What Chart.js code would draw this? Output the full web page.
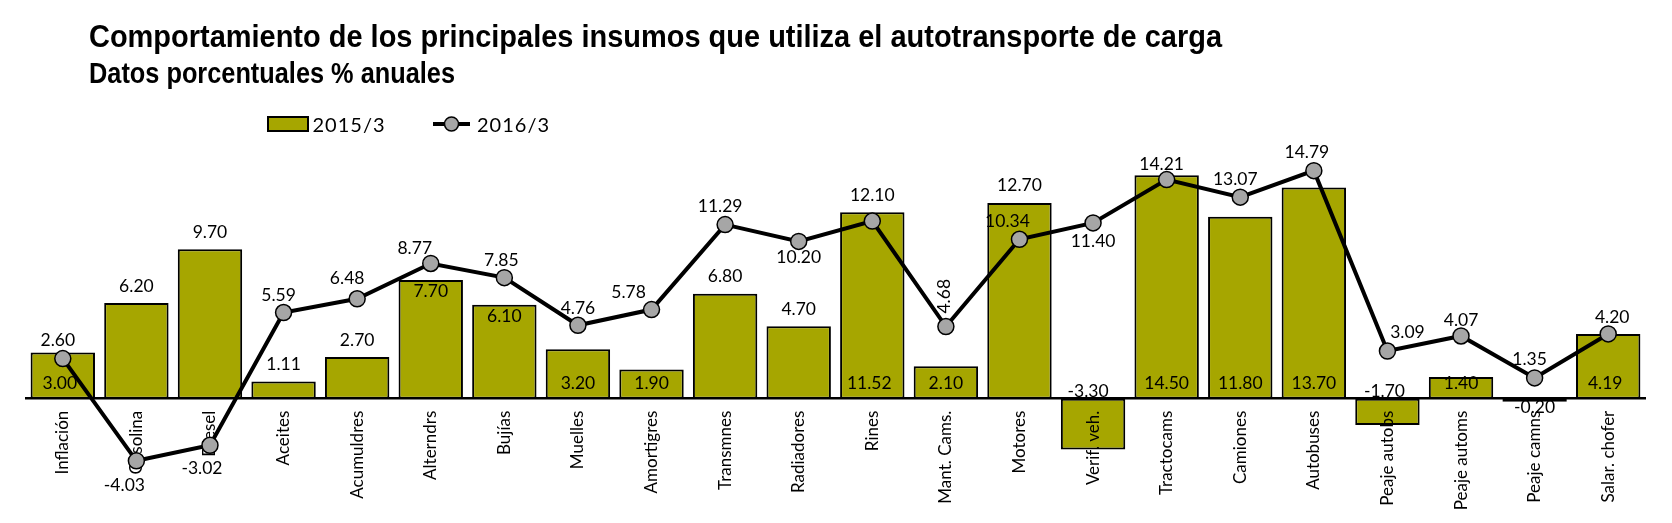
<!DOCTYPE html>
<html>
<head>
<meta charset="utf-8">
<script src="https://cdn.jsdelivr.net/npm/chart.js@4.4.1/dist/chart.umd.min.js"></script>
<style>
  html, body { margin: 0; padding: 0; background: #fff; }
  #wrap { width: 1672px; height: 523px; position: relative; }
</style>
</head>
<body>
<div id="wrap"><canvas id="c" width="1672" height="523"></canvas></div>
<script>
// ---- data ----
const TITLE = 'Comportamiento de los principales insumos que utiliza el autotransporte de carga';
const SUBTITLE = 'Datos porcentuales % anuales';
const categories = ['Inflación','Gasolina','Diesel','Aceites','Acumuldres','Alterndrs','Bujías','Muelles','Amortigres','Transmnes','Radiadores','Rines','Mant. Cams.','Motores','Verif. veh.','Tractocams','Camiones','Autobuses','Peaje autobs','Peaje automs','Peaje camns','Salar. chofer'];
const seriesNames = ['2015/3', '2016/3'];
const values2015 = [3.00, 6.20, 9.70, 1.11, 2.70, 7.70, 6.10, 3.20, 1.90, 6.80, 4.70, 12.10, 2.10, 12.70, -3.30, 14.50, 11.80, 13.70, -1.70, 1.40, -0.20, 4.19];
const values2016 = [2.60, -4.03, -3.02, 5.59, 6.48, 8.77, 7.85, 4.76, 5.78, 11.29, 10.20, 11.52, 4.68, 10.34, 11.40, 14.21, 13.07, 14.79, 3.09, 4.07, 1.35, 4.20];

// ---- label placement (style only) ----
const barLabelPlace = ['inBottom','above','above','above','above','inTop','inTop','inBottom','inBottom','above','above','above','inBottom','above','zeroAbove','inBottom','inBottom','inBottom','zeroAbove','inBottom','below','inBottom'];
const barLabelDx = [-3,0,0,0,0,0,0,0,0,0,0,0,0,0,-5,0,0,0,-3,0,0,-3];
const lineLabelPlace = ['pt','pt','pt','pt','pt','pt','pt','pt','pt','pt','pt','barBottom','rotated','pt','pt','pt','pt','pt','pt','pt','pt','pt'];
const lineLabelDx = [-5,-12,-8,-5,-10,-16,-3,0,-23,-5,0,-3,-2,-12,0,-5,-5,-7,20,0,-5,4];
const lineLabelDy = [-13,30,29,-12,-15,-9,-12,-11,-12,-13,22,0,-13,-12,24,-10,-12,-13,-13,-10,-13,-11];

const OLIVE = '#A6A600';
const GREY = '#A6A6A6';
const LABEL_FONT = '17.5px Lato, "Open Sans", sans-serif';
const TITLE_FONT_FAMILY = '"Liberation Sans Narrow", "Arial Narrow", "Liberation Sans", Arial, sans-serif';

const fmt = v => v.toFixed(2);

const orderPlugin = {
  id: 'orderPlugin',
  beforeDatasetDraw(chart, args) {
    if (args.meta.type === 'line') return false;
  },
  afterDraw(chart) {
    const ctx = chart.ctx;
    // draw line series above the axis labels
    const lineMeta = chart.getDatasetMeta(1);
    ctx.save();
    lineMeta.controller.draw();
    ctx.restore();

    const y = chart.scales.y;
    const zero = y.getPixelForValue(0);
    ctx.save();
    ctx.fillStyle = '#000';
    ctx.font = LABEL_FONT;
    ctx.textAlign = 'center';
    ctx.textBaseline = 'alphabetic';
    const barMeta = chart.getDatasetMeta(0);
    values2015.forEach((v, i) => {
      const el = barMeta.data[i];
      const px = el.x + barLabelDx[i];
      const top = y.getPixelForValue(Math.max(v, 0));
      const bot = y.getPixelForValue(Math.min(v, 0));
      let by;
      switch (barLabelPlace[i]) {
        case 'above': by = top - 11.5; break;
        case 'inTop': by = top + 17; break;
        case 'inBottom': by = zero - 9.5; break;
        case 'zeroAbove': by = zero - 1.5; break;
        case 'below': by = bot + 11.5; break;
      }
      ctx.fillText(fmt(v), px, by);
    });
    values2016.forEach((v, i) => {
      const el = lineMeta.data[i];
      const place = lineLabelPlace[i];
      if (place === 'barBottom') {
        ctx.fillText(fmt(v), el.x + lineLabelDx[i], zero - 9.5);
      } else if (place === 'rotated') {
        ctx.save();
        ctx.translate(el.x + lineLabelDx[i] + 6, el.y + lineLabelDy[i]);
        ctx.rotate(-Math.PI / 2);
        ctx.textAlign = 'left';
        ctx.fillText(fmt(v), 0, 0);
        ctx.restore();
      } else {
        ctx.fillText(fmt(v), el.x + lineLabelDx[i], el.y + lineLabelDy[i]);
      }
    });
    ctx.restore();

    // title & subtitle
    ctx.save();
    ctx.fillStyle = '#000';
    ctx.textAlign = 'left';
    ctx.textBaseline = 'alphabetic';
    const drawFit = (txt, font, x0, y0, target) => {
      ctx.font = font;
      const w = ctx.measureText(txt).width;
      ctx.save();
      ctx.translate(x0, y0);
      ctx.scale(target / w, 1);
      ctx.fillText(txt, 0, 0);
      ctx.restore();
    };
    drawFit(TITLE, 'bold 31px ' + TITLE_FONT_FAMILY, 89, 46.7, 1133);
    drawFit(SUBTITLE, 'bold 29px ' + TITLE_FONT_FAMILY, 89, 83.3, 366);
    ctx.restore();

    // legend
    ctx.save();
    const ds = chart.data.datasets;
    ctx.fillStyle = OLIVE;
    ctx.strokeStyle = '#000';
    ctx.lineWidth = 2;
    ctx.fillRect(268, 117, 40, 14);
    ctx.strokeRect(268, 117, 40, 14);
    ctx.fillStyle = '#000';
    ctx.font = '20px Lato, "Open Sans", sans-serif';
    ctx.textAlign = 'left';
    ctx.textBaseline = 'alphabetic';
    if ('letterSpacing' in ctx) ctx.letterSpacing = '1px';
    ctx.fillText(ds[0].label, 312.5, 131.5);
    ctx.lineWidth = 4;
    ctx.beginPath();
    ctx.moveTo(433, 124);
    ctx.lineTo(470, 124);
    ctx.stroke();
    ctx.beginPath();
    ctx.arc(451.5, 124, 7, 0, Math.PI * 2);
    ctx.fillStyle = GREY;
    ctx.fill();
    ctx.lineWidth = 1.5;
    ctx.stroke();
    ctx.fillStyle = '#000';
    ctx.fillText(ds[1].label, 477, 131.5);
    ctx.restore();
  }
};

new Chart(document.getElementById('c'), {
  type: 'bar',
  data: {
    labels: categories,
    datasets: [
      {
        type: 'bar',
        label: seriesNames[0],
        data: values2015,
        backgroundColor: OLIVE,
        borderColor: '#000',
        borderWidth: 2,
        borderSkipped: false,
        barPercentage: 0.875,
        categoryPercentage: 1,
        clip: false,
        order: 1
      },
      {
        type: 'line',
        label: seriesNames[1],
        data: values2016,
        borderColor: '#000',
        borderWidth: 4,
        tension: 0,
        pointRadius: 8,
        pointBackgroundColor: GREY,
        pointBorderColor: '#000',
        pointBorderWidth: 1.5,
        clip: false,
        order: 0
      }
    ]
  },
  options: {
    responsive: false,
    animation: false,
    devicePixelRatio: 1,
    layout: { padding: { left: 26, right: 27, top: 152, bottom: 31.8 } },
    plugins: { legend: { display: false }, title: { display: false }, tooltip: { enabled: false } },
    events: [],
    scales: {
      x: {
        position: { y: 0 },
        grid: { display: false, drawTicks: false },
        border: { display: true, color: '#000', width: 2.5, z: 1 },
        ticks: {
          z: 1, autoSkip: false, minRotation: 90, maxRotation: 90, padding: 12,
          color: '#000', font: { family: 'Lato, "Open Sans", sans-serif', size: 17 }
        }
      },
      y: { display: false, min: -6, max: 16 }
    }
  },
  plugins: [orderPlugin]
});
</script>
</body>
</html>
